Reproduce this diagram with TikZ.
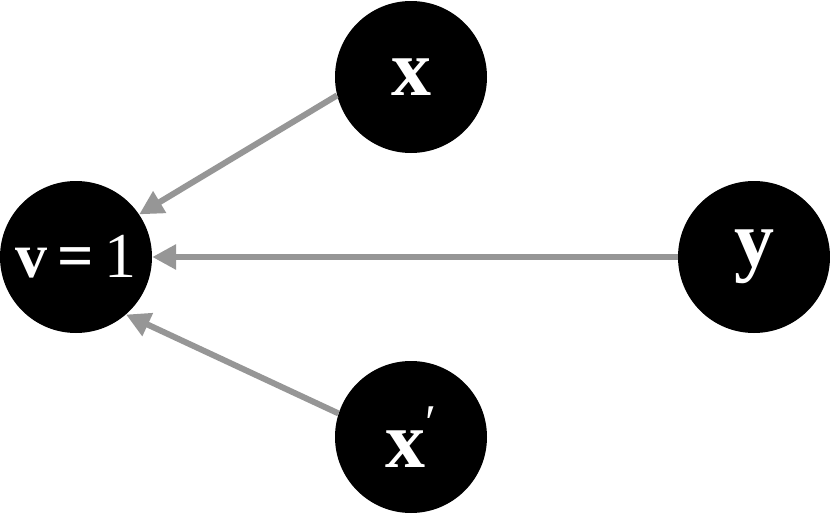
\documentclass[tikz,border=0pt]{standalone}
\usepackage{fontspec}
\setmainfont{Liberation Serif}
\usetikzlibrary{arrows.meta}
\begin{document}
\begin{tikzpicture}[x=1pt,y=-1pt,
  dot/.style={circle,fill=black,minimum size=152pt,inner sep=0pt,text=white,font=\fontsize{80}{84}\selectfont\bfseries},
  conn/.style={draw={rgb,255:red,150;green,150;blue,150},line width=6pt,-{Triangle[length=24pt,width=24pt]}}]
\useasboundingbox (0,0) rectangle (830,514);
\node[dot,font=\fontsize{64}{68}\selectfont\bfseries] (v) at (76,257) {v\,=\,\mdseries 1};
\node[dot] (x) at (411,77) {x};
\node[dot] (y) at (754,257) {y};
\node[dot] (xp) at (411,437) {x\raisebox{0.35em}{\fontsize{50}{50}\selectfont\mdseries\char"2032}};
\draw[conn] (x.194) -- (v.34);
\draw[conn] (y) -- (v);
\draw[conn] (xp.162) -- (v.311);
\end{tikzpicture}
\end{document}
